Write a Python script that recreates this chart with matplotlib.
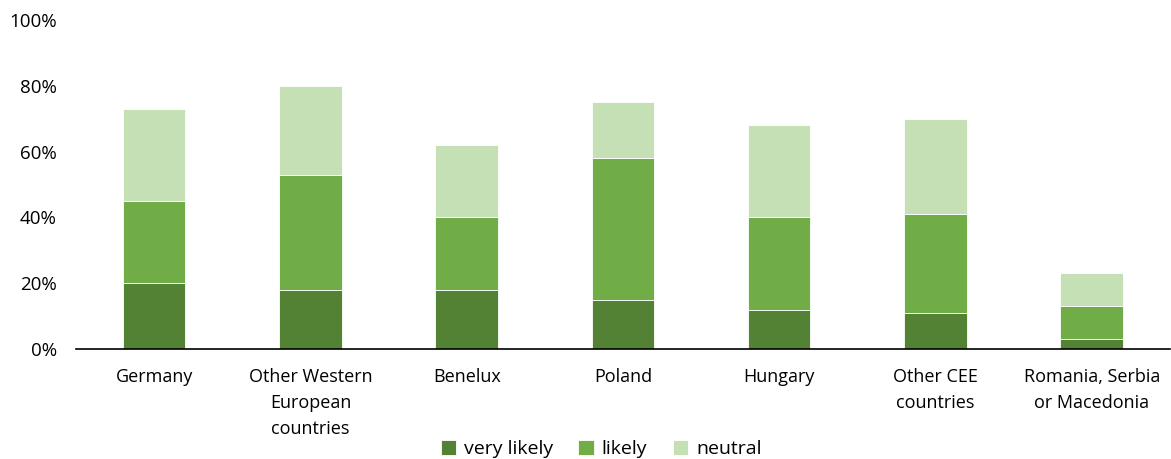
import numpy as np
import matplotlib.pyplot as plt
from matplotlib.ticker import FuncFormatter

categories = ['Germany', 'Other Western\nEuropean\ncountries', 'Benelux', 'Poland',
              'Hungary', 'Other CEE\ncountries', 'Romania, Serbia\nor Macedonia']
very_likely = [20, 18, 18, 15, 12, 11, 3]
likely = [25, 35, 22, 43, 28, 30, 10]
neutral = [28, 27, 22, 17, 28, 29, 10]

plt.rcParams['font.family'] = ['Open Sans', 'DejaVu Sans']

fig = plt.figure(figsize=(11.71, 4.59), dpi=100)
ax = fig.add_axes([0.065, 0.2397, 0.934, 0.7167])

x = np.arange(len(categories))
vl = np.array(very_likely)
lk = np.array(likely)
nt = np.array(neutral)
w = 0.4
ax.bar(x, vl, w, color='#548235', edgecolor='white', linewidth=0.6, label='very likely')
ax.bar(x, lk, w, bottom=vl, color='#70AD47', edgecolor='white', linewidth=0.6, label='likely')
ax.bar(x, nt, w, bottom=vl + lk, color='#C5E0B4', edgecolor='white', linewidth=0.6, label='neutral')

ax.set_xlim(-0.5, len(categories) - 0.5)
ax.set_ylim(0, 100)
ax.set_yticks(range(0, 101, 20))
ax.yaxis.set_major_formatter(FuncFormatter(lambda v, p: f'{v:.0f}%'))
ax.set_xticks(x)
ax.set_xticklabels(categories, fontsize=13, linespacing=1.55)
ax.tick_params(axis='both', length=0, colors='black')
ax.tick_params(axis='y', labelsize=13.5, pad=14)
ax.tick_params(axis='x', pad=14)
for s in ['top', 'right', 'left']:
    ax.spines[s].set_visible(False)
ax.spines['bottom'].set_color('black')
ax.spines['bottom'].set_linewidth(1.2)

ax.legend(loc='lower center', bbox_to_anchor=(0.48, -0.385), ncol=3, frameon=False,
          fontsize=14, handlelength=0.8, handleheight=0.8, handletextpad=0.4, columnspacing=1.3)

plt.savefig('out.png', dpi=100)
